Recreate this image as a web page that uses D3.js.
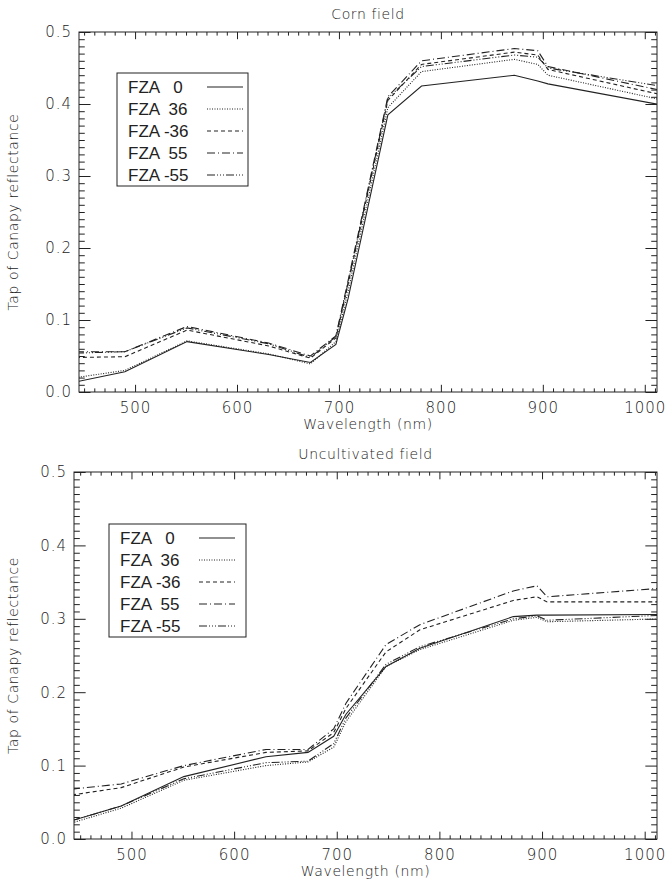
<!DOCTYPE html>
<html>
<head>
<meta charset="utf-8">
<script src="https://cdn.jsdelivr.net/npm/d3@7"></script>
<style>
body { margin: 0; background: #fff; }
svg text { fill: #222; }
</style>
</head>
<body>
<svg id="chart" width="668" height="892"></svg>
<script>
// band centres (nm)
const wavelengths = [442, 490, 551, 631, 672, 697, 709, 748, 781, 872, 895, 905, 1019];
const fzaLabels = ["FZA   0", "FZA  36", "FZA -36", "FZA  55", "FZA -55"];

// Corn field
const cornFza0   = [0.014, 0.028, 0.070, 0.052, 0.041, 0.066, 0.130, 0.385, 0.425, 0.440, 0.432, 0.428, 0.398];
const cornFza36  = [0.020, 0.030, 0.071, 0.053, 0.039, 0.070, 0.140, 0.395, 0.445, 0.462, 0.455, 0.440, 0.405];
const cornFzaM36 = [0.048, 0.049, 0.086, 0.064, 0.047, 0.075, 0.150, 0.405, 0.455, 0.472, 0.468, 0.448, 0.412];
const cornFza55  = [0.056, 0.056, 0.091, 0.068, 0.050, 0.078, 0.155, 0.410, 0.460, 0.477, 0.474, 0.452, 0.418];
const cornFzaM55 = [0.054, 0.056, 0.089, 0.067, 0.048, 0.077, 0.152, 0.408, 0.452, 0.468, 0.465, 0.450, 0.424];

// Uncultivated field
const uncFza0   = [0.025, 0.045, 0.085, 0.112, 0.118, 0.140, 0.170, 0.235, 0.260, 0.303, 0.305, 0.305, 0.306];
const uncFza36  = [0.022, 0.042, 0.080, 0.100, 0.105, 0.125, 0.160, 0.235, 0.258, 0.298, 0.302, 0.296, 0.300];
const uncFzaM36 = [0.060, 0.070, 0.098, 0.118, 0.120, 0.145, 0.178, 0.255, 0.285, 0.325, 0.330, 0.323, 0.323];
const uncFza55  = [0.068, 0.075, 0.100, 0.122, 0.122, 0.150, 0.185, 0.265, 0.292, 0.338, 0.345, 0.330, 0.342];
const uncFzaM55 = [0.025, 0.045, 0.082, 0.104, 0.106, 0.130, 0.165, 0.238, 0.262, 0.300, 0.304, 0.298, 0.305];

const xMajor = [500, 600, 700, 800, 900, 1000];
const yMajor = [0.0, 0.1, 0.2, 0.3, 0.4, 0.5];

const DASHES = ["none", "1,1.5", "4,3", "8,3,1,3", "8,2,1,2,1,2,1,2"];
const FONT = "DejaVu Sans";

const svg = d3.select("#chart");

drawPanel({
    id: "corn", title: "Corn field",
    left: 79, top: 32, width: 578, height: 360,
    xDomain: [445, 1012],
    series: [cornFza0, cornFza36, cornFzaM36, cornFza55, cornFzaM55],
    legend: {x: 117, y: 73, w: 131, h: 113}
});

drawPanel({
    id: "unc", title: "Uncultivated field",
    left: 74, top: 472, width: 583, height: 367,
    xDomain: [444, 1012],
    series: [uncFza0, uncFza36, uncFzaM36, uncFza55, uncFzaM55],
    legend: {x: 109, y: 524, w: 137, h: 113}
});

function drawPanel(cfg) {
    const w = cfg.width, h = cfg.height;
    const g = svg.append("g").attr("transform", `translate(${cfg.left}, ${cfg.top})`);

    const x = d3.scaleLinear().domain(cfg.xDomain).range([0, w]);
    const y = d3.scaleLinear().domain([0, 0.5]).range([h, 0]);

    const xMinor = d3.range(450, 1011, 10).filter(v => v % 100 !== 0);
    const yMinor = d3.range(0, 51).map(v => v / 100).filter(v => Math.round(v * 100) % 10 !== 0);

    const xt = 0.02 * h, yt = 0.02 * w;   // IDL style tick lengths

    // minor ticks
    g.append("g").attr("transform", `translate(0,${h})`)
        .call(d3.axisBottom(x).tickValues(xMinor).tickSize(-xt / 2).tickSizeOuter(0).tickFormat(""));
    g.append("g")
        .call(d3.axisTop(x).tickValues(xMinor).tickSize(-xt / 2).tickSizeOuter(0).tickFormat(""));
    g.append("g")
        .call(d3.axisLeft(y).tickValues(yMinor).tickSize(-yt / 2).tickSizeOuter(0).tickFormat(""));
    g.append("g").attr("transform", `translate(${w},0)`)
        .call(d3.axisRight(y).tickValues(yMinor).tickSize(-yt / 2).tickSizeOuter(0).tickFormat(""));

    // major ticks + labels
    g.append("g").attr("class", "xaxis").attr("transform", `translate(0,${h})`)
        .call(d3.axisBottom(x).tickValues(xMajor).tickSize(-xt).tickSizeOuter(0).tickPadding(10).tickFormat(d3.format("d")));
    g.append("g")
        .call(d3.axisTop(x).tickValues(xMajor).tickSize(-xt).tickSizeOuter(0).tickFormat(""));
    g.append("g").attr("class", "yaxis")
        .call(d3.axisLeft(y).tickValues(yMajor).tickSize(-yt).tickSizeOuter(0).tickPadding(7).tickFormat(d3.format(".1f")));
    g.append("g").attr("transform", `translate(${w},0)`)
        .call(d3.axisRight(y).tickValues(yMajor).tickSize(-yt).tickSizeOuter(0).tickFormat(""));

    g.selectAll(".domain").remove();
    g.selectAll(".tick line").attr("stroke", "#222").attr("stroke-width", 1);
    g.selectAll(".tick text")
        .style("font-family", FONT).style("font-weight", 200)
        .style("font-size", "15px").style("letter-spacing", "1px").attr("fill", "#222");

    // frame
    g.append("rect").attr("width", w).attr("height", h)
        .attr("fill", "none").attr("stroke", "#222").attr("stroke-width", 1);

    // title + axis labels
    g.append("text").attr("x", w / 2).attr("y", -13).attr("text-anchor", "middle")
        .style("font-family", FONT).style("font-weight", 200).style("font-size", "14px")
        .style("letter-spacing", "0.6px").text(cfg.title);
    g.append("text").attr("x", w / 2).attr("y", h + 37).attr("text-anchor", "middle")
        .style("font-family", FONT).style("font-weight", 200).style("font-size", "14px")
        .style("letter-spacing", "0.6px").text("Wavelength (nm)");
    g.append("text").attr("transform", `translate(${18 - cfg.left},${h / 2}) rotate(-90)`)
        .attr("text-anchor", "middle")
        .style("font-family", FONT).style("font-weight", 200).style("font-size", "14px")
        .style("letter-spacing", "0.6px").text("Tap of Canapy reflectance");

    // data lines
    g.append("clipPath").attr("id", "clip-" + cfg.id)
        .append("rect").attr("width", w).attr("height", h);

    const line = d3.line()
        .x((d, i) => x(wavelengths[i]))
        .y(d => y(d));

    cfg.series.forEach(function (s, i) {
        g.append("path")
            .datum(s)
            .attr("clip-path", `url(#clip-${cfg.id})`)
            .attr("d", line)
            .attr("fill", "none")
            .attr("stroke", "#222")
            .attr("stroke-width", 1.1)
            .attr("stroke-dasharray", DASHES[i]);
    });

    // legend
    const L = cfg.legend;
    const lg = svg.append("g").attr("transform", `translate(${L.x},${L.y})`);
    lg.append("rect").attr("width", L.w).attr("height", L.h)
        .attr("fill", "#fff").attr("stroke", "#222").attr("stroke-width", 1);
    fzaLabels.forEach(function (lab, i) {
        const cy = 14 + i * 22;
        lg.append("text").attr("x", 11).attr("y", cy).attr("dy", "0.35em")
            .attr("xml:space", "preserve").style("white-space", "pre")
            .style("font-family", "Liberation Sans").style("font-size", "17px")
            .text(lab);
        lg.append("line").attr("x1", 90).attr("x2", 126).attr("y1", cy).attr("y2", cy)
            .attr("stroke", "#222").attr("stroke-width", 1.1)
            .attr("stroke-dasharray", DASHES[i]);
    });
}
</script>
</body>
</html>
